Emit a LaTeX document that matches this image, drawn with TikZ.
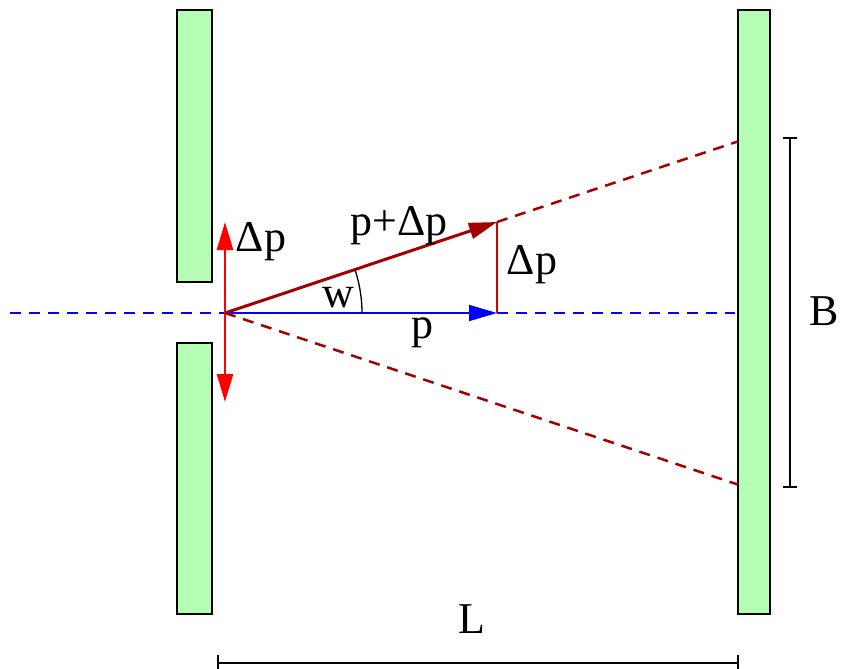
\documentclass[tikz,border=0pt]{standalone}
\usepackage{fontspec}
\setmainfont{Liberation Serif}
\usetikzlibrary{arrows.meta}
\definecolor{plategreen}{RGB}{180,255,180}
\definecolor{raydark}{RGB}{165,0,0}
\tikzset{
  plate/.style={draw=black,line width=1.5pt,fill=plategreen},
  lbl/.style={font=\fontsize{44}{52}\selectfont,inner sep=0pt,anchor=base},
  tip/.style={-{Triangle[length=28pt,width=16pt]}},
  bar/.style={black,line width=2pt},
  raydash/.style={raydark,line width=2.5pt,dash pattern=on 11pt off 8pt},
  axisdash/.style={blue,line width=1.8pt,dash pattern=on 11pt off 8pt}
}
\begin{document}
\begin{tikzpicture}[x=1pt,y=-1pt]
  \useasboundingbox (0,0) rectangle (841,669);
  \foreach \ya/\yb in {10/282,343/614}{
    \draw[plate] (177,\ya) rectangle (212,\yb);
  }
  \draw[plate] (738,10) rectangle (770,614);
  \coordinate (O) at (225,313);
  \coordinate (P) at (497,313);
  \coordinate (Q) at (497,222);
  \coordinate (U) at (225,222);
  \coordinate (D) at (225,402);
  \coordinate (Wl) at (10,313);
  \coordinate (Wr) at (735,313);
  \coordinate (St) at (738,141.4);
  \coordinate (Sb) at (738,484.6);
  \draw[axisdash] (Wl) -- (O);
  \draw[axisdash] (P) -- (Wr);
  \draw[raydash] (Q) -- (St);
  \draw[raydash] (O) -- (Sb);
  \draw[red!85!black,line width=1.5pt] (P) -- (Q);
  \draw[tip,red,line width=2.5pt] (O) -- (U);
  \draw[tip,red,line width=2.5pt] (O) -- (D);
  \draw[tip,blue,line width=2pt] (O) -- (P);
  \draw[tip,raydark,line width=3pt] (O) -- (Q);
  \draw[black,line width=1.3pt] ([xshift=137pt]O) arc (0:-18.5:137);
  \draw[bar] (783,138) -- (797,138) (790,138) -- (790,487) (783,487) -- (797,487);
  \draw[bar] (218,655) -- (218,669) (218,663) -- (738,663) (738,655) -- (738,669);
  \node[lbl] (dpl) at (261,251) {Δp};
  \node[lbl] (ppdp) at (399,235) {p+Δp};
  \node[lbl] (dpr) at (532,274) {Δp};
  \node[lbl] (w) at (338,307) {w};
  \node[lbl] (p) at (422,338) {p};
  \node[lbl] (B) at (824,325) {B};
  \node[lbl] (L) at (472,633) {L};
\end{tikzpicture}
\end{document}
